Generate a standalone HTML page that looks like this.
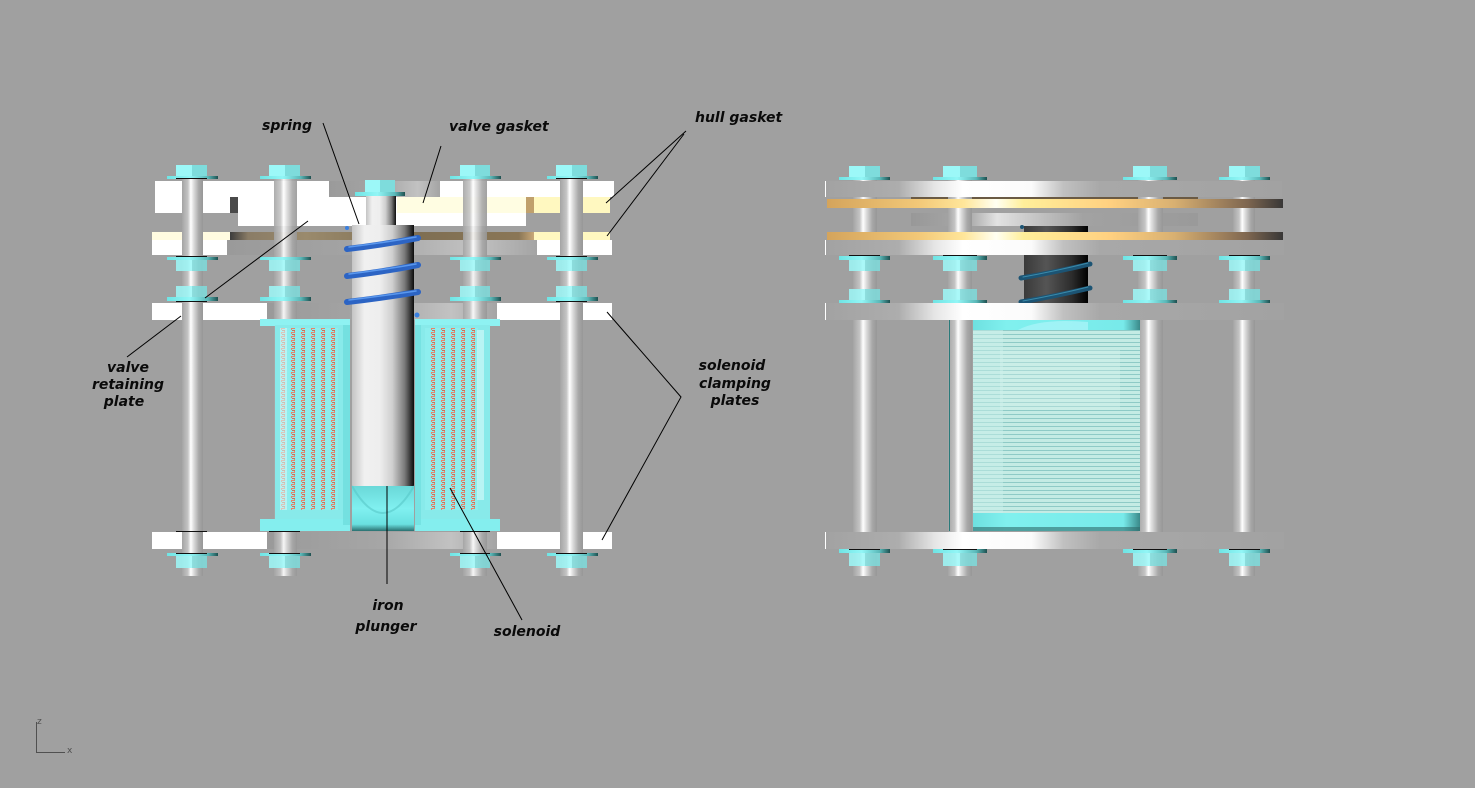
<!DOCTYPE html>
<html><head><meta charset="utf-8"><style>
html,body{margin:0;padding:0;background:#a0a0a0;}
svg{display:block;}
text{font-family:"DejaVu Sans","Liberation Sans",sans-serif;font-weight:bold;font-style:italic;font-size:14px;fill:#0a0a0a;}
</style></head><body>
<svg width="1475" height="788" viewBox="0 0 1475 788" xmlns="http://www.w3.org/2000/svg">
<defs>
<linearGradient id="rod" x1="0" x2="1" y1="0" y2="0">
<stop offset="0" stop-color="#a4a4a4"/><stop offset="0.28" stop-color="#c4c4c4"/><stop offset="0.42" stop-color="#ffffff"/><stop offset="0.55" stop-color="#dedede"/><stop offset="0.8" stop-color="#a8a8a8"/><stop offset="1" stop-color="#979797"/>
</linearGradient>
<linearGradient id="plunger" x1="0" x2="1" y1="0" y2="0">
<stop offset="0" stop-color="#c4c4c4"/><stop offset="0.2" stop-color="#f0f0f0"/><stop offset="0.45" stop-color="#eeeeee"/><stop offset="0.65" stop-color="#cfcfcf"/><stop offset="0.85" stop-color="#7a7a7a"/><stop offset="1" stop-color="#0c0c0c"/>
</linearGradient>
<linearGradient id="dplunger" x1="0" x2="1" y1="0" y2="0">
<stop offset="0" stop-color="#3a3a3a"/><stop offset="0.35" stop-color="#555555"/><stop offset="0.75" stop-color="#2c2c2c"/><stop offset="1" stop-color="#000"/>
</linearGradient>
<linearGradient id="flange" x1="0" x2="1" y1="0" y2="0">
<stop offset="0" stop-color="#6fe4e4"/><stop offset="0.45" stop-color="#92f6f6"/><stop offset="0.8" stop-color="#5ab8b8"/><stop offset="1" stop-color="#1e5050"/>
</linearGradient>
<linearGradient id="grayplate" x1="0" x2="1" y1="0" y2="0">
<stop offset="0" stop-color="#9a9a9a"/><stop offset="0.5" stop-color="#a6a6a6"/><stop offset="0.8" stop-color="#c2c2c2"/><stop offset="1" stop-color="#a4a4a4"/>
</linearGradient>
<linearGradient id="gasketL" x1="0" x2="1" y1="0" y2="0">
<stop offset="0" stop-color="#3c3c3c"/><stop offset="0.06" stop-color="#8a7c66"/><stop offset="0.25" stop-color="#9a8a6c"/><stop offset="0.6" stop-color="#7e6e52"/><stop offset="0.95" stop-color="#8a7656"/><stop offset="1" stop-color="#c8a878"/>
</linearGradient>
<linearGradient id="rplate" gradientUnits="userSpaceOnUse" x1="825" x2="1284" y1="0" y2="0">
<stop offset="0" stop-color="#a2a2a2"/><stop offset="0.16" stop-color="#adadad"/><stop offset="0.24" stop-color="#e6e6e6"/><stop offset="0.3" stop-color="#ffffff"/><stop offset="0.45" stop-color="#fbfbfb"/><stop offset="0.52" stop-color="#c0c0c0"/><stop offset="0.6" stop-color="#a8a8a8"/><stop offset="1" stop-color="#a2a2a2"/>
</linearGradient>
<linearGradient id="gold" gradientUnits="userSpaceOnUse" x1="827" x2="1284" y1="0" y2="0">
<stop offset="0" stop-color="#d4a45c"/><stop offset="0.2" stop-color="#f2c878"/><stop offset="0.3" stop-color="#ffe69a"/><stop offset="0.37" stop-color="#fffff2"/><stop offset="0.43" stop-color="#ffef9a"/><stop offset="0.62" stop-color="#ffd080"/><stop offset="0.76" stop-color="#d8b072"/><stop offset="0.92" stop-color="#7e6650"/><stop offset="1" stop-color="#363636"/>
</linearGradient>
<linearGradient id="vstrip" gradientUnits="userSpaceOnUse" x1="911" x2="1198" y1="0" y2="0">
<stop offset="0" stop-color="#989898"/><stop offset="0.2" stop-color="#a8a8a8"/><stop offset="0.3" stop-color="#e2e2e2"/><stop offset="0.42" stop-color="#c8c8c8"/><stop offset="0.6" stop-color="#a2a2a2"/><stop offset="1" stop-color="#9a9a9a"/>
</linearGradient>
<linearGradient id="cyanbot" x1="0" x2="0" y1="0" y2="1">
<stop offset="0" stop-color="#6ad8d8"/><stop offset="0.5" stop-color="#80f0f0"/><stop offset="0.85" stop-color="#6ae0e0"/><stop offset="1" stop-color="#2a7070"/>
</linearGradient>
<linearGradient id="rsolband" x1="0" x2="1" y1="0" y2="0">
<stop offset="0" stop-color="#6ee0e0"/><stop offset="0.2" stop-color="#80f0ee"/><stop offset="0.9" stop-color="#78eaea"/><stop offset="1" stop-color="#3a8a8a"/>
</linearGradient>
<pattern id="coil" x="0" y="0" width="10" height="4" patternUnits="userSpaceOnUse">
<rect width="10" height="4" fill="#8eeeee"/>
<rect x="1" y="0" width="4" height="1" fill="#e8846a"/>
<rect x="2" y="2" width="3" height="1" fill="#d0705a"/>
<rect x="1" y="1" width="1" height="1" fill="#e08a70"/>
<rect x="4" y="3" width="1" height="1" fill="#e08a70"/>
</pattern>
<pattern id="wind" x="0" y="0" width="6" height="4" patternUnits="userSpaceOnUse">
<rect width="6" height="4" fill="#c4ebe4"/>
<rect y="2" width="6" height="1" fill="#8ecac6"/>
</pattern>
</defs>

<!-- ============ LEFT ASSEMBLY ============ -->
<rect x="329" y="181" width="111" height="16" fill="url(#grayplate)"/>
<rect x="227" y="240" width="310" height="15" fill="url(#grayplate)"/>
<rect x="267" y="303" width="230" height="17" fill="url(#grayplate)"/>
<rect x="267" y="532" width="230" height="17" fill="url(#grayplate)"/>
<rect x="155" y="181" width="174" height="16" fill="#fff"/>
<rect x="440" y="181" width="174" height="16" fill="#fff"/>
<rect x="152" y="240" width="75" height="15" fill="#fff"/>
<rect x="537" y="240" width="75" height="15" fill="#fff"/>
<rect x="152" y="303" width="115" height="17" fill="#fff"/>
<rect x="497" y="303" width="115" height="17" fill="#fff"/>
<rect x="152" y="532" width="115" height="17" fill="#fff"/>
<rect x="497" y="532" width="115" height="17" fill="#fff"/>
<rect x="155" y="197" width="75" height="16" fill="#fff"/>
<rect x="230" y="197" width="8" height="16" fill="#4a4a4a"/>
<rect x="238" y="197" width="159" height="16" fill="#fff"/>
<rect x="397" y="197" width="129" height="16" fill="#fffde2"/>
<rect x="526" y="197" width="8" height="16" fill="#c0a06c"/>
<rect x="534" y="197" width="76" height="16" fill="#fff8c0"/>
<rect x="238" y="213" width="288" height="13" fill="#fff"/>
<rect x="152" y="232" width="78" height="8" fill="#fffbe0"/>
<rect x="230" y="232" width="304" height="8" fill="url(#gasketL)"/>
<rect x="534" y="232" width="76" height="8" fill="#fff8c0"/>
<rect x="182" y="178" width="21" height="398" fill="url(#rod)"/>
<rect x="274" y="178" width="23" height="398" fill="url(#rod)" opacity="0.9"/>
<rect x="463" y="178" width="24" height="398" fill="url(#rod)" opacity="0.9"/>
<rect x="560" y="178" width="23" height="398" fill="url(#rod)"/>
<rect x="366" y="196" width="30" height="30" fill="url(#plunger)"/>
<rect x="352" y="225" width="62" height="262" fill="url(#plunger)"/>
<rect x="352" y="486" width="62" height="45" fill="url(#cyanbot)"/>
<path d="M352,486 Q383,540 414,486" fill="none" stroke="#58c8c8" stroke-width="2" opacity="0.6"/>
<g fill="none" stroke-linecap="round">
<path d="M347,249 Q382,245 418,238" stroke="#2c64c4" stroke-width="6"/>
<path d="M349,247 Q382,243 416,237" stroke="#5a98ee" stroke-width="1.5"/>
<path d="M347,276 Q382,272 418,265" stroke="#2c64c4" stroke-width="6"/>
<path d="M349,274 Q382,270 416,264" stroke="#5a98ee" stroke-width="1.5"/>
<path d="M347,302 Q382,298 418,292" stroke="#2c64c4" stroke-width="6"/>
<path d="M349,300 Q382,296 416,291" stroke="#5a98ee" stroke-width="1.5"/>
</g>
<circle cx="347" cy="228" r="2" fill="#3a80e0"/>
<circle cx="417" cy="315" r="2.5" fill="#3a80e0"/>
<rect x="260" y="319" width="90" height="7" fill="#8ef2f2"/>
<rect x="275" y="325" width="75" height="196" fill="#88eaea"/>
<rect x="260" y="519" width="90" height="12" fill="#84eeee"/>
<rect x="280" y="328" width="58" height="182" fill="url(#coil)"/>
<rect x="280" y="328" width="7" height="182" fill="#d8fafa" opacity="0.55"/>
<rect x="343" y="325" width="7" height="200" fill="#6cdcdc" opacity="0.7"/>
<rect x="415" y="319" width="85" height="7" fill="#8ef2f2"/>
<rect x="415" y="325" width="75" height="196" fill="#88eaea"/>
<rect x="415" y="519" width="85" height="12" fill="#84eeee"/>
<rect x="425" y="328" width="53" height="182" fill="url(#coil)"/>
<rect x="477" y="330" width="7" height="170" fill="#d8fafa" opacity="0.6"/>
<rect x="415" y="325" width="6" height="200" fill="#70dede" opacity="0.7"/>

<g>
<rect x="176" y="165" width="16" height="11" fill="#9cf8f8"/><rect x="192" y="165" width="15" height="11" fill="#7edcdc"/><rect x="167" y="176" width="51" height="3" fill="url(#flange)"/>
<rect x="269" y="165" width="16" height="11" fill="#9cf8f8"/><rect x="285" y="165" width="15" height="11" fill="#7edcdc"/><rect x="260" y="176" width="51" height="3" fill="url(#flange)"/>
<rect x="460" y="165" width="15" height="11" fill="#9cf8f8"/><rect x="475" y="165" width="15" height="11" fill="#7edcdc"/><rect x="450" y="176" width="51" height="3" fill="url(#flange)"/>
<rect x="556" y="165" width="16" height="11" fill="#9cf8f8"/><rect x="572" y="165" width="15" height="11" fill="#7edcdc"/><rect x="547" y="176" width="51" height="3" fill="url(#flange)"/>
<rect x="365" y="180" width="15" height="12" fill="#9cf8f8"/><rect x="380" y="180" width="15" height="12" fill="#7edcdc"/><rect x="355" y="192" width="50" height="4" fill="url(#flange)"/>
<rect x="167" y="257" width="51" height="3" fill="url(#flange)"/><rect x="176" y="260" width="16" height="11" fill="#9cf8f8" opacity="0.85"/><rect x="192" y="260" width="15" height="11" fill="#7edcdc" opacity="0.85"/>
<rect x="260" y="257" width="51" height="3" fill="url(#flange)"/><rect x="269" y="260" width="16" height="11" fill="#9cf8f8" opacity="0.85"/><rect x="285" y="260" width="15" height="11" fill="#7edcdc" opacity="0.85"/>
<rect x="450" y="257" width="51" height="3" fill="url(#flange)"/><rect x="460" y="260" width="15" height="11" fill="#9cf8f8" opacity="0.85"/><rect x="475" y="260" width="15" height="11" fill="#7edcdc" opacity="0.85"/>
<rect x="547" y="257" width="51" height="3" fill="url(#flange)"/><rect x="556" y="260" width="16" height="11" fill="#9cf8f8" opacity="0.85"/><rect x="572" y="260" width="15" height="11" fill="#7edcdc" opacity="0.85"/>
<rect x="176" y="286" width="16" height="11" fill="#9cf8f8" opacity="0.85"/><rect x="192" y="286" width="15" height="11" fill="#7edcdc" opacity="0.85"/><rect x="167" y="297" width="51" height="4" fill="url(#flange)"/>
<rect x="269" y="286" width="16" height="11" fill="#9cf8f8" opacity="0.85"/><rect x="285" y="286" width="15" height="11" fill="#7edcdc" opacity="0.85"/><rect x="260" y="297" width="51" height="4" fill="url(#flange)"/>
<rect x="460" y="286" width="15" height="11" fill="#9cf8f8" opacity="0.85"/><rect x="475" y="286" width="15" height="11" fill="#7edcdc" opacity="0.85"/><rect x="450" y="297" width="51" height="4" fill="url(#flange)"/>
<rect x="556" y="286" width="16" height="11" fill="#9cf8f8" opacity="0.85"/><rect x="572" y="286" width="15" height="11" fill="#7edcdc" opacity="0.85"/><rect x="547" y="297" width="51" height="4" fill="url(#flange)"/>
<rect x="167" y="553" width="51" height="3" fill="url(#flange)"/><rect x="176" y="556" width="16" height="12" fill="#9cf8f8" opacity="0.85"/><rect x="192" y="556" width="15" height="12" fill="#7edcdc" opacity="0.85"/>
<rect x="260" y="553" width="51" height="3" fill="url(#flange)"/><rect x="269" y="556" width="16" height="12" fill="#9cf8f8" opacity="0.85"/><rect x="285" y="556" width="15" height="12" fill="#7edcdc" opacity="0.85"/>
<rect x="450" y="553" width="51" height="3" fill="url(#flange)"/><rect x="460" y="556" width="15" height="12" fill="#9cf8f8" opacity="0.85"/><rect x="475" y="556" width="15" height="12" fill="#7edcdc" opacity="0.85"/>
<rect x="547" y="553" width="51" height="3" fill="url(#flange)"/><rect x="556" y="556" width="16" height="12" fill="#9cf8f8" opacity="0.85"/><rect x="572" y="556" width="15" height="12" fill="#7edcdc" opacity="0.85"/>
</g>
<g stroke="#111" stroke-width="1">
<line x1="176" y1="178.5" x2="207" y2="178.5"/><line x1="556" y1="178.5" x2="587" y2="178.5"/>
<line x1="176" y1="256.5" x2="207" y2="256.5"/><line x1="556" y1="256.5" x2="587" y2="256.5"/>
<line x1="176" y1="301.5" x2="207" y2="301.5"/><line x1="556" y1="301.5" x2="587" y2="301.5"/>
<line x1="176" y1="531.5" x2="207" y2="531.5"/><line x1="269" y1="531.5" x2="300" y2="531.5"/><line x1="460" y1="531.5" x2="490" y2="531.5"/>
<line x1="176" y1="553.5" x2="207" y2="553.5"/><line x1="269" y1="553.5" x2="300" y2="553.5"/><line x1="460" y1="553.5" x2="490" y2="553.5"/><line x1="556" y1="553.5" x2="587" y2="553.5"/>
</g>

<!-- ============ RIGHT ASSEMBLY ============ -->
<rect x="1024" y="226" width="64" height="78" fill="url(#dplunger)"/>
<rect x="911" y="213" width="287" height="13" fill="url(#vstrip)"/>
<rect x="911" y="197" width="287" height="3" fill="#6a5a44"/>
<rect x="853" y="178" width="24" height="398" fill="url(#rod)"/>
<rect x="948" y="178" width="24" height="398" fill="url(#rod)"/>
<rect x="1138" y="178" width="25" height="398" fill="url(#rod)"/>
<rect x="1233" y="178" width="22" height="398" fill="url(#rod)"/>
<line x1="949.5" y1="320" x2="949.5" y2="531" stroke="#2a7a7a" stroke-width="1"/>
<g fill="none" stroke-linecap="round">
<path d="M1021,278 Q1056,272 1090,264" stroke="#1c5474" stroke-width="5"/>
<path d="M1021,302 Q1056,296 1090,288" stroke="#1c5474" stroke-width="5"/>
<path d="M1023,277 Q1056,271 1088,263" stroke="#3a8aaa" stroke-width="1"/>
<path d="M1023,301 Q1056,295 1088,287" stroke="#3a8aaa" stroke-width="1"/>
</g>
<circle cx="1022" cy="227" r="2" fill="#1c5474"/>
<rect x="825" y="181" width="457" height="16" fill="url(#rplate)"/>
<rect x="827" y="199" width="456" height="9" fill="url(#gold)"/>
<rect x="827" y="232" width="456" height="8" fill="url(#gold)"/>
<rect x="825" y="240" width="459" height="15" fill="url(#rplate)"/>
<rect x="825" y="303" width="459" height="17" fill="url(#rplate)"/>
<rect x="825" y="532" width="459" height="17" fill="url(#rplate)"/>
<line x1="825.5" y1="181" x2="825.5" y2="197" stroke="#fff"/>
<line x1="825.5" y1="240" x2="825.5" y2="255" stroke="#fff"/>
<line x1="825.5" y1="303" x2="825.5" y2="320" stroke="#fff"/>
<line x1="825.5" y1="532" x2="825.5" y2="549" stroke="#fff"/>
<rect x="973" y="320" width="167" height="211" fill="url(#wind)"/>
<rect x="973" y="330" width="30" height="183" fill="#c8f0ea" opacity="0.5"/>
<rect x="1000" y="350" width="120" height="60" fill="#d8f4ee" opacity="0.35"/>
<rect x="973" y="320" width="167" height="10" fill="url(#rsolband)"/>
<path d="M1018,330 Q1040,318 1088,322 L1088,330 Z" fill="#a8f4f8" opacity="0.8"/>
<rect x="973" y="513" width="167" height="18" fill="url(#rsolband)"/>
<rect x="973" y="527" width="167" height="4" fill="#2e6a6a" opacity="0.6"/>
<g>
<rect x="849" y="166" width="16" height="11" fill="#9cf8f8"/><rect x="865" y="166" width="15" height="11" fill="#7edcdc"/><rect x="839" y="177" width="51" height="3" fill="url(#flange)"/>
<rect x="943" y="166" width="17" height="11" fill="#9cf8f8"/><rect x="960" y="166" width="17" height="11" fill="#7edcdc"/><rect x="933" y="177" width="54" height="3" fill="url(#flange)"/>
<rect x="1133" y="166" width="17" height="11" fill="#9cf8f8"/><rect x="1150" y="166" width="17" height="11" fill="#7edcdc"/><rect x="1123" y="177" width="54" height="3" fill="url(#flange)"/>
<rect x="1229" y="166" width="16" height="11" fill="#9cf8f8"/><rect x="1245" y="166" width="15" height="11" fill="#7edcdc"/><rect x="1219" y="177" width="51" height="3" fill="url(#flange)"/>
<rect x="839" y="256" width="51" height="4" fill="url(#flange)"/><rect x="849" y="260" width="16" height="11" fill="#9cf8f8" opacity="0.85"/><rect x="865" y="260" width="15" height="11" fill="#7edcdc" opacity="0.85"/>
<rect x="933" y="256" width="54" height="4" fill="url(#flange)"/><rect x="943" y="260" width="17" height="11" fill="#9cf8f8" opacity="0.85"/><rect x="960" y="260" width="17" height="11" fill="#7edcdc" opacity="0.85"/>
<rect x="1123" y="256" width="54" height="4" fill="url(#flange)"/><rect x="1133" y="260" width="17" height="11" fill="#9cf8f8" opacity="0.85"/><rect x="1150" y="260" width="17" height="11" fill="#7edcdc" opacity="0.85"/>
<rect x="1219" y="256" width="51" height="4" fill="url(#flange)"/><rect x="1229" y="260" width="16" height="11" fill="#9cf8f8" opacity="0.85"/><rect x="1245" y="260" width="15" height="11" fill="#7edcdc" opacity="0.85"/>
<rect x="849" y="289" width="16" height="11" fill="#9cf8f8" opacity="0.85"/><rect x="865" y="289" width="15" height="11" fill="#7edcdc" opacity="0.85"/><rect x="839" y="300" width="51" height="3" fill="url(#flange)"/>
<rect x="943" y="289" width="17" height="11" fill="#9cf8f8" opacity="0.85"/><rect x="960" y="289" width="17" height="11" fill="#7edcdc" opacity="0.85"/><rect x="933" y="300" width="54" height="3" fill="url(#flange)"/>
<rect x="1133" y="289" width="17" height="11" fill="#9cf8f8" opacity="0.85"/><rect x="1150" y="289" width="17" height="11" fill="#7edcdc" opacity="0.85"/><rect x="1123" y="300" width="54" height="3" fill="url(#flange)"/>
<rect x="1229" y="289" width="16" height="11" fill="#9cf8f8" opacity="0.85"/><rect x="1245" y="289" width="15" height="11" fill="#7edcdc" opacity="0.85"/><rect x="1219" y="300" width="51" height="3" fill="url(#flange)"/>
<rect x="839" y="549" width="51" height="4" fill="url(#flange)"/><rect x="849" y="553" width="16" height="13" fill="#9cf8f8" opacity="0.85"/><rect x="865" y="553" width="15" height="13" fill="#7edcdc" opacity="0.85"/>
<rect x="933" y="549" width="54" height="4" fill="url(#flange)"/><rect x="943" y="553" width="17" height="13" fill="#9cf8f8" opacity="0.85"/><rect x="960" y="553" width="17" height="13" fill="#7edcdc" opacity="0.85"/>
<rect x="1123" y="549" width="54" height="4" fill="url(#flange)"/><rect x="1133" y="553" width="17" height="13" fill="#9cf8f8" opacity="0.85"/><rect x="1150" y="553" width="17" height="13" fill="#7edcdc" opacity="0.85"/>
<rect x="1219" y="549" width="51" height="4" fill="url(#flange)"/><rect x="1229" y="553" width="16" height="13" fill="#9cf8f8" opacity="0.85"/><rect x="1245" y="553" width="15" height="13" fill="#7edcdc" opacity="0.85"/>
</g>
<g stroke="#111" stroke-width="1">
<line x1="849" y1="255.5" x2="880" y2="255.5"/><line x1="943" y1="255.5" x2="977" y2="255.5"/><line x1="1133" y1="255.5" x2="1167" y2="255.5"/><line x1="1229" y1="255.5" x2="1260" y2="255.5"/>
<line x1="849" y1="549.5" x2="880" y2="549.5"/><line x1="943" y1="549.5" x2="977" y2="549.5"/><line x1="1133" y1="549.5" x2="1167" y2="549.5"/><line x1="1229" y1="549.5" x2="1260" y2="549.5"/>
</g>

<!-- ============ LEADER LINES ============ -->
<g stroke="#000" stroke-width="1" fill="none">
<line x1="323" y1="123" x2="359" y2="224"/>
<line x1="441" y1="146" x2="423" y2="203"/>
<line x1="686" y1="131" x2="606" y2="203"/>
<line x1="684" y1="134" x2="607" y2="236"/>
<line x1="127" y1="357" x2="181" y2="316"/>
<line x1="205" y1="298" x2="308" y2="221"/>
<polyline points="607,312 681,397 602,540"/>
<line x1="387" y1="486" x2="387" y2="584"/>
<line x1="450" y1="488" x2="522" y2="620"/>
</g>

<!-- ============ LABELS ============ -->
<text x="262" y="130">spring</text>
<text x="449" y="131">valve gasket</text>
<text x="695" y="122">hull gasket</text>
<text x="128" y="372" text-anchor="middle">valve</text>
<text x="128" y="389" text-anchor="middle">retaining</text>
<text x="124" y="406" text-anchor="middle">plate</text>
<text x="732" y="370" text-anchor="middle">solenoid</text>
<text x="735" y="388" text-anchor="middle">clamping</text>
<text x="735" y="405" text-anchor="middle">plates</text>
<text x="388" y="610" text-anchor="middle">iron</text>
<text x="386" y="631" text-anchor="middle">plunger</text>
<text x="527" y="636" text-anchor="middle">solenoid</text>

<g stroke="#505050" stroke-width="1" fill="none">
<line x1="36.5" y1="722" x2="36.5" y2="752"/>
<line x1="36" y1="752.5" x2="65" y2="752.5"/>
</g>
<text x="37" y="724" style="font-size:9px;font-style:normal;font-weight:normal;fill:#505050">z</text>
<text x="67" y="753" style="font-size:9px;font-style:normal;font-weight:normal;fill:#505050">x</text>
</svg>
</body></html>
